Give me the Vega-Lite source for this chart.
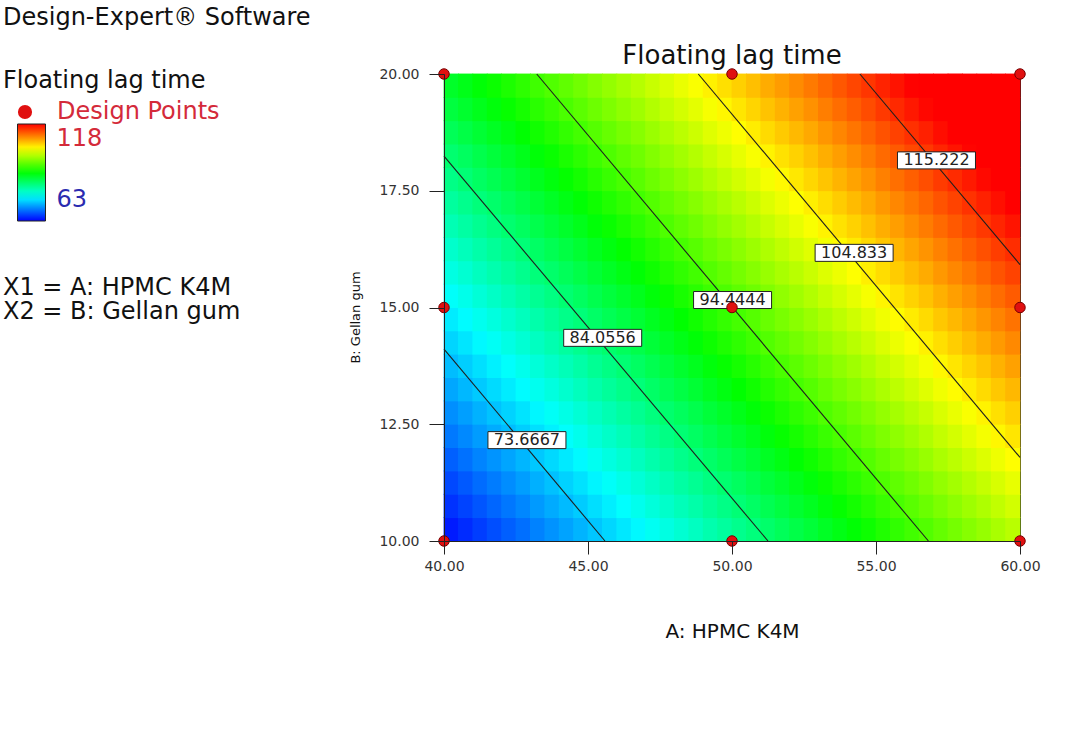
{
"$schema": "https://vega.github.io/schema/vega-lite/v6.json",
"autosize": {"type": "none"},
"padding": {"left": 444, "top": 74, "right": 69, "bottom": 210},
"width": 576,
"height": 467,
"background": "#ffffff",
"config": {"font": "DejaVu Sans", "view": {"stroke": "#222222", "strokeWidth": 1}},
"title": {"text": "Floating lag time", "font": "DejaVu Sans", "fontSize": 26, "fontWeight": "normal", "color": "#111111", "anchor": "middle", "frame": "group", "baseline": "alphabetic", "offset": 9, "dy": 93},
"datasets": {
"grid": [
{"A":40.25,"B":10.25,"v":64.4},{"A":40.75,"B":10.25,"v":65.3},{"A":41.25,"B":10.25,"v":66.3},{"A":41.75,"B":10.25,"v":67.2},{"A":42.25,"B":10.25,"v":68.1},{"A":42.75,"B":10.25,"v":69.0},{"A":43.25,"B":10.25,"v":70.0},{"A":43.75,"B":10.25,"v":70.9},{"A":44.25,"B":10.25,"v":71.8},{"A":44.75,"B":10.25,"v":72.7},{"A":45.25,"B":10.25,"v":73.7},{"A":45.75,"B":10.25,"v":74.6},{"A":46.25,"B":10.25,"v":75.5},{"A":46.75,"B":10.25,"v":76.4},{"A":47.25,"B":10.25,"v":77.4},{"A":47.75,"B":10.25,"v":78.3},{"A":48.25,"B":10.25,"v":79.2},{"A":48.75,"B":10.25,"v":80.1},{"A":49.25,"B":10.25,"v":81.1},{"A":49.75,"B":10.25,"v":82.0},{"A":50.25,"B":10.25,"v":82.9},{"A":50.75,"B":10.25,"v":83.8},{"A":51.25,"B":10.25,"v":84.8},{"A":51.75,"B":10.25,"v":85.7},{"A":52.25,"B":10.25,"v":86.6},{"A":52.75,"B":10.25,"v":87.5},{"A":53.25,"B":10.25,"v":88.5},{"A":53.75,"B":10.25,"v":89.4},{"A":54.25,"B":10.25,"v":90.3},{"A":54.75,"B":10.25,"v":91.2},{"A":55.25,"B":10.25,"v":92.2},{"A":55.75,"B":10.25,"v":93.1},{"A":56.25,"B":10.25,"v":94.0},{"A":56.75,"B":10.25,"v":94.9},{"A":57.25,"B":10.25,"v":95.9},{"A":57.75,"B":10.25,"v":96.8},{"A":58.25,"B":10.25,"v":97.7},{"A":58.75,"B":10.25,"v":98.6},{"A":59.25,"B":10.25,"v":99.6},{"A":59.75,"B":10.25,"v":100.5},
{"A":40.25,"B":10.75,"v":65.7},{"A":40.75,"B":10.75,"v":66.6},{"A":41.25,"B":10.75,"v":67.6},{"A":41.75,"B":10.75,"v":68.5},{"A":42.25,"B":10.75,"v":69.4},{"A":42.75,"B":10.75,"v":70.3},{"A":43.25,"B":10.75,"v":71.3},{"A":43.75,"B":10.75,"v":72.2},{"A":44.25,"B":10.75,"v":73.1},{"A":44.75,"B":10.75,"v":74.0},{"A":45.25,"B":10.75,"v":75.0},{"A":45.75,"B":10.75,"v":75.9},{"A":46.25,"B":10.75,"v":76.8},{"A":46.75,"B":10.75,"v":77.7},{"A":47.25,"B":10.75,"v":78.7},{"A":47.75,"B":10.75,"v":79.6},{"A":48.25,"B":10.75,"v":80.5},{"A":48.75,"B":10.75,"v":81.4},{"A":49.25,"B":10.75,"v":82.4},{"A":49.75,"B":10.75,"v":83.3},{"A":50.25,"B":10.75,"v":84.2},{"A":50.75,"B":10.75,"v":85.1},{"A":51.25,"B":10.75,"v":86.1},{"A":51.75,"B":10.75,"v":87.0},{"A":52.25,"B":10.75,"v":87.9},{"A":52.75,"B":10.75,"v":88.8},{"A":53.25,"B":10.75,"v":89.8},{"A":53.75,"B":10.75,"v":90.7},{"A":54.25,"B":10.75,"v":91.6},{"A":54.75,"B":10.75,"v":92.5},{"A":55.25,"B":10.75,"v":93.5},{"A":55.75,"B":10.75,"v":94.4},{"A":56.25,"B":10.75,"v":95.3},{"A":56.75,"B":10.75,"v":96.2},{"A":57.25,"B":10.75,"v":97.2},{"A":57.75,"B":10.75,"v":98.1},{"A":58.25,"B":10.75,"v":99.0},{"A":58.75,"B":10.75,"v":99.9},{"A":59.25,"B":10.75,"v":100.9},{"A":59.75,"B":10.75,"v":101.8},
{"A":40.25,"B":11.25,"v":66.9},{"A":40.75,"B":11.25,"v":67.8},{"A":41.25,"B":11.25,"v":68.8},{"A":41.75,"B":11.25,"v":69.7},{"A":42.25,"B":11.25,"v":70.6},{"A":42.75,"B":11.25,"v":71.5},{"A":43.25,"B":11.25,"v":72.5},{"A":43.75,"B":11.25,"v":73.4},{"A":44.25,"B":11.25,"v":74.3},{"A":44.75,"B":11.25,"v":75.2},{"A":45.25,"B":11.25,"v":76.2},{"A":45.75,"B":11.25,"v":77.1},{"A":46.25,"B":11.25,"v":78.0},{"A":46.75,"B":11.25,"v":78.9},{"A":47.25,"B":11.25,"v":79.9},{"A":47.75,"B":11.25,"v":80.8},{"A":48.25,"B":11.25,"v":81.7},{"A":48.75,"B":11.25,"v":82.6},{"A":49.25,"B":11.25,"v":83.6},{"A":49.75,"B":11.25,"v":84.5},{"A":50.25,"B":11.25,"v":85.4},{"A":50.75,"B":11.25,"v":86.3},{"A":51.25,"B":11.25,"v":87.3},{"A":51.75,"B":11.25,"v":88.2},{"A":52.25,"B":11.25,"v":89.1},{"A":52.75,"B":11.25,"v":90.0},{"A":53.25,"B":11.25,"v":91.0},{"A":53.75,"B":11.25,"v":91.9},{"A":54.25,"B":11.25,"v":92.8},{"A":54.75,"B":11.25,"v":93.7},{"A":55.25,"B":11.25,"v":94.7},{"A":55.75,"B":11.25,"v":95.6},{"A":56.25,"B":11.25,"v":96.5},{"A":56.75,"B":11.25,"v":97.4},{"A":57.25,"B":11.25,"v":98.4},{"A":57.75,"B":11.25,"v":99.3},{"A":58.25,"B":11.25,"v":100.2},{"A":58.75,"B":11.25,"v":101.1},{"A":59.25,"B":11.25,"v":102.1},{"A":59.75,"B":11.25,"v":103.0},
{"A":40.25,"B":11.75,"v":68.2},{"A":40.75,"B":11.75,"v":69.1},{"A":41.25,"B":11.75,"v":70.1},{"A":41.75,"B":11.75,"v":71.0},{"A":42.25,"B":11.75,"v":71.9},{"A":42.75,"B":11.75,"v":72.8},{"A":43.25,"B":11.75,"v":73.8},{"A":43.75,"B":11.75,"v":74.7},{"A":44.25,"B":11.75,"v":75.6},{"A":44.75,"B":11.75,"v":76.5},{"A":45.25,"B":11.75,"v":77.5},{"A":45.75,"B":11.75,"v":78.4},{"A":46.25,"B":11.75,"v":79.3},{"A":46.75,"B":11.75,"v":80.2},{"A":47.25,"B":11.75,"v":81.2},{"A":47.75,"B":11.75,"v":82.1},{"A":48.25,"B":11.75,"v":83.0},{"A":48.75,"B":11.75,"v":83.9},{"A":49.25,"B":11.75,"v":84.9},{"A":49.75,"B":11.75,"v":85.8},{"A":50.25,"B":11.75,"v":86.7},{"A":50.75,"B":11.75,"v":87.6},{"A":51.25,"B":11.75,"v":88.6},{"A":51.75,"B":11.75,"v":89.5},{"A":52.25,"B":11.75,"v":90.4},{"A":52.75,"B":11.75,"v":91.3},{"A":53.25,"B":11.75,"v":92.3},{"A":53.75,"B":11.75,"v":93.2},{"A":54.25,"B":11.75,"v":94.1},{"A":54.75,"B":11.75,"v":95.0},{"A":55.25,"B":11.75,"v":96.0},{"A":55.75,"B":11.75,"v":96.9},{"A":56.25,"B":11.75,"v":97.8},{"A":56.75,"B":11.75,"v":98.7},{"A":57.25,"B":11.75,"v":99.7},{"A":57.75,"B":11.75,"v":100.6},{"A":58.25,"B":11.75,"v":101.5},{"A":58.75,"B":11.75,"v":102.4},{"A":59.25,"B":11.75,"v":103.4},{"A":59.75,"B":11.75,"v":104.3},
{"A":40.25,"B":12.25,"v":69.5},{"A":40.75,"B":12.25,"v":70.4},{"A":41.25,"B":12.25,"v":71.4},{"A":41.75,"B":12.25,"v":72.3},{"A":42.25,"B":12.25,"v":73.2},{"A":42.75,"B":12.25,"v":74.1},{"A":43.25,"B":12.25,"v":75.1},{"A":43.75,"B":12.25,"v":76.0},{"A":44.25,"B":12.25,"v":76.9},{"A":44.75,"B":12.25,"v":77.8},{"A":45.25,"B":12.25,"v":78.8},{"A":45.75,"B":12.25,"v":79.7},{"A":46.25,"B":12.25,"v":80.6},{"A":46.75,"B":12.25,"v":81.5},{"A":47.25,"B":12.25,"v":82.5},{"A":47.75,"B":12.25,"v":83.4},{"A":48.25,"B":12.25,"v":84.3},{"A":48.75,"B":12.25,"v":85.2},{"A":49.25,"B":12.25,"v":86.2},{"A":49.75,"B":12.25,"v":87.1},{"A":50.25,"B":12.25,"v":88.0},{"A":50.75,"B":12.25,"v":88.9},{"A":51.25,"B":12.25,"v":89.9},{"A":51.75,"B":12.25,"v":90.8},{"A":52.25,"B":12.25,"v":91.7},{"A":52.75,"B":12.25,"v":92.6},{"A":53.25,"B":12.25,"v":93.6},{"A":53.75,"B":12.25,"v":94.5},{"A":54.25,"B":12.25,"v":95.4},{"A":54.75,"B":12.25,"v":96.3},{"A":55.25,"B":12.25,"v":97.3},{"A":55.75,"B":12.25,"v":98.2},{"A":56.25,"B":12.25,"v":99.1},{"A":56.75,"B":12.25,"v":100.0},{"A":57.25,"B":12.25,"v":101.0},{"A":57.75,"B":12.25,"v":101.9},{"A":58.25,"B":12.25,"v":102.8},{"A":58.75,"B":12.25,"v":103.7},{"A":59.25,"B":12.25,"v":104.7},{"A":59.75,"B":12.25,"v":105.6},
{"A":40.25,"B":12.75,"v":70.7},{"A":40.75,"B":12.75,"v":71.6},{"A":41.25,"B":12.75,"v":72.6},{"A":41.75,"B":12.75,"v":73.5},{"A":42.25,"B":12.75,"v":74.4},{"A":42.75,"B":12.75,"v":75.3},{"A":43.25,"B":12.75,"v":76.3},{"A":43.75,"B":12.75,"v":77.2},{"A":44.25,"B":12.75,"v":78.1},{"A":44.75,"B":12.75,"v":79.0},{"A":45.25,"B":12.75,"v":80.0},{"A":45.75,"B":12.75,"v":80.9},{"A":46.25,"B":12.75,"v":81.8},{"A":46.75,"B":12.75,"v":82.7},{"A":47.25,"B":12.75,"v":83.7},{"A":47.75,"B":12.75,"v":84.6},{"A":48.25,"B":12.75,"v":85.5},{"A":48.75,"B":12.75,"v":86.4},{"A":49.25,"B":12.75,"v":87.4},{"A":49.75,"B":12.75,"v":88.3},{"A":50.25,"B":12.75,"v":89.2},{"A":50.75,"B":12.75,"v":90.1},{"A":51.25,"B":12.75,"v":91.1},{"A":51.75,"B":12.75,"v":92.0},{"A":52.25,"B":12.75,"v":92.9},{"A":52.75,"B":12.75,"v":93.8},{"A":53.25,"B":12.75,"v":94.8},{"A":53.75,"B":12.75,"v":95.7},{"A":54.25,"B":12.75,"v":96.6},{"A":54.75,"B":12.75,"v":97.5},{"A":55.25,"B":12.75,"v":98.5},{"A":55.75,"B":12.75,"v":99.4},{"A":56.25,"B":12.75,"v":100.3},{"A":56.75,"B":12.75,"v":101.2},{"A":57.25,"B":12.75,"v":102.2},{"A":57.75,"B":12.75,"v":103.1},{"A":58.25,"B":12.75,"v":104.0},{"A":58.75,"B":12.75,"v":104.9},{"A":59.25,"B":12.75,"v":105.9},{"A":59.75,"B":12.75,"v":106.8},
{"A":40.25,"B":13.25,"v":72.0},{"A":40.75,"B":13.25,"v":72.9},{"A":41.25,"B":13.25,"v":73.9},{"A":41.75,"B":13.25,"v":74.8},{"A":42.25,"B":13.25,"v":75.7},{"A":42.75,"B":13.25,"v":76.6},{"A":43.25,"B":13.25,"v":77.6},{"A":43.75,"B":13.25,"v":78.5},{"A":44.25,"B":13.25,"v":79.4},{"A":44.75,"B":13.25,"v":80.3},{"A":45.25,"B":13.25,"v":81.3},{"A":45.75,"B":13.25,"v":82.2},{"A":46.25,"B":13.25,"v":83.1},{"A":46.75,"B":13.25,"v":84.0},{"A":47.25,"B":13.25,"v":85.0},{"A":47.75,"B":13.25,"v":85.9},{"A":48.25,"B":13.25,"v":86.8},{"A":48.75,"B":13.25,"v":87.7},{"A":49.25,"B":13.25,"v":88.7},{"A":49.75,"B":13.25,"v":89.6},{"A":50.25,"B":13.25,"v":90.5},{"A":50.75,"B":13.25,"v":91.4},{"A":51.25,"B":13.25,"v":92.4},{"A":51.75,"B":13.25,"v":93.3},{"A":52.25,"B":13.25,"v":94.2},{"A":52.75,"B":13.25,"v":95.1},{"A":53.25,"B":13.25,"v":96.1},{"A":53.75,"B":13.25,"v":97.0},{"A":54.25,"B":13.25,"v":97.9},{"A":54.75,"B":13.25,"v":98.8},{"A":55.25,"B":13.25,"v":99.8},{"A":55.75,"B":13.25,"v":100.7},{"A":56.25,"B":13.25,"v":101.6},{"A":56.75,"B":13.25,"v":102.5},{"A":57.25,"B":13.25,"v":103.5},{"A":57.75,"B":13.25,"v":104.4},{"A":58.25,"B":13.25,"v":105.3},{"A":58.75,"B":13.25,"v":106.2},{"A":59.25,"B":13.25,"v":107.2},{"A":59.75,"B":13.25,"v":108.1},
{"A":40.25,"B":13.75,"v":73.2},{"A":40.75,"B":13.75,"v":74.1},{"A":41.25,"B":13.75,"v":75.1},{"A":41.75,"B":13.75,"v":76.0},{"A":42.25,"B":13.75,"v":76.9},{"A":42.75,"B":13.75,"v":77.8},{"A":43.25,"B":13.75,"v":78.8},{"A":43.75,"B":13.75,"v":79.7},{"A":44.25,"B":13.75,"v":80.6},{"A":44.75,"B":13.75,"v":81.5},{"A":45.25,"B":13.75,"v":82.5},{"A":45.75,"B":13.75,"v":83.4},{"A":46.25,"B":13.75,"v":84.3},{"A":46.75,"B":13.75,"v":85.2},{"A":47.25,"B":13.75,"v":86.2},{"A":47.75,"B":13.75,"v":87.1},{"A":48.25,"B":13.75,"v":88.0},{"A":48.75,"B":13.75,"v":88.9},{"A":49.25,"B":13.75,"v":89.9},{"A":49.75,"B":13.75,"v":90.8},{"A":50.25,"B":13.75,"v":91.7},{"A":50.75,"B":13.75,"v":92.6},{"A":51.25,"B":13.75,"v":93.6},{"A":51.75,"B":13.75,"v":94.5},{"A":52.25,"B":13.75,"v":95.4},{"A":52.75,"B":13.75,"v":96.3},{"A":53.25,"B":13.75,"v":97.3},{"A":53.75,"B":13.75,"v":98.2},{"A":54.25,"B":13.75,"v":99.1},{"A":54.75,"B":13.75,"v":100.0},{"A":55.25,"B":13.75,"v":101.0},{"A":55.75,"B":13.75,"v":101.9},{"A":56.25,"B":13.75,"v":102.8},{"A":56.75,"B":13.75,"v":103.7},{"A":57.25,"B":13.75,"v":104.7},{"A":57.75,"B":13.75,"v":105.6},{"A":58.25,"B":13.75,"v":106.5},{"A":58.75,"B":13.75,"v":107.4},{"A":59.25,"B":13.75,"v":108.4},{"A":59.75,"B":13.75,"v":109.3},
{"A":40.25,"B":14.25,"v":74.5},{"A":40.75,"B":14.25,"v":75.4},{"A":41.25,"B":14.25,"v":76.4},{"A":41.75,"B":14.25,"v":77.3},{"A":42.25,"B":14.25,"v":78.2},{"A":42.75,"B":14.25,"v":79.1},{"A":43.25,"B":14.25,"v":80.1},{"A":43.75,"B":14.25,"v":81.0},{"A":44.25,"B":14.25,"v":81.9},{"A":44.75,"B":14.25,"v":82.8},{"A":45.25,"B":14.25,"v":83.8},{"A":45.75,"B":14.25,"v":84.7},{"A":46.25,"B":14.25,"v":85.6},{"A":46.75,"B":14.25,"v":86.5},{"A":47.25,"B":14.25,"v":87.5},{"A":47.75,"B":14.25,"v":88.4},{"A":48.25,"B":14.25,"v":89.3},{"A":48.75,"B":14.25,"v":90.2},{"A":49.25,"B":14.25,"v":91.2},{"A":49.75,"B":14.25,"v":92.1},{"A":50.25,"B":14.25,"v":93.0},{"A":50.75,"B":14.25,"v":93.9},{"A":51.25,"B":14.25,"v":94.9},{"A":51.75,"B":14.25,"v":95.8},{"A":52.25,"B":14.25,"v":96.7},{"A":52.75,"B":14.25,"v":97.6},{"A":53.25,"B":14.25,"v":98.6},{"A":53.75,"B":14.25,"v":99.5},{"A":54.25,"B":14.25,"v":100.4},{"A":54.75,"B":14.25,"v":101.3},{"A":55.25,"B":14.25,"v":102.3},{"A":55.75,"B":14.25,"v":103.2},{"A":56.25,"B":14.25,"v":104.1},{"A":56.75,"B":14.25,"v":105.0},{"A":57.25,"B":14.25,"v":106.0},{"A":57.75,"B":14.25,"v":106.9},{"A":58.25,"B":14.25,"v":107.8},{"A":58.75,"B":14.25,"v":108.7},{"A":59.25,"B":14.25,"v":109.7},{"A":59.75,"B":14.25,"v":110.6},
{"A":40.25,"B":14.75,"v":75.7},{"A":40.75,"B":14.75,"v":76.6},{"A":41.25,"B":14.75,"v":77.6},{"A":41.75,"B":14.75,"v":78.5},{"A":42.25,"B":14.75,"v":79.4},{"A":42.75,"B":14.75,"v":80.3},{"A":43.25,"B":14.75,"v":81.3},{"A":43.75,"B":14.75,"v":82.2},{"A":44.25,"B":14.75,"v":83.1},{"A":44.75,"B":14.75,"v":84.0},{"A":45.25,"B":14.75,"v":85.0},{"A":45.75,"B":14.75,"v":85.9},{"A":46.25,"B":14.75,"v":86.8},{"A":46.75,"B":14.75,"v":87.7},{"A":47.25,"B":14.75,"v":88.7},{"A":47.75,"B":14.75,"v":89.6},{"A":48.25,"B":14.75,"v":90.5},{"A":48.75,"B":14.75,"v":91.4},{"A":49.25,"B":14.75,"v":92.4},{"A":49.75,"B":14.75,"v":93.3},{"A":50.25,"B":14.75,"v":94.2},{"A":50.75,"B":14.75,"v":95.1},{"A":51.25,"B":14.75,"v":96.1},{"A":51.75,"B":14.75,"v":97.0},{"A":52.25,"B":14.75,"v":97.9},{"A":52.75,"B":14.75,"v":98.8},{"A":53.25,"B":14.75,"v":99.8},{"A":53.75,"B":14.75,"v":100.7},{"A":54.25,"B":14.75,"v":101.6},{"A":54.75,"B":14.75,"v":102.5},{"A":55.25,"B":14.75,"v":103.5},{"A":55.75,"B":14.75,"v":104.4},{"A":56.25,"B":14.75,"v":105.3},{"A":56.75,"B":14.75,"v":106.2},{"A":57.25,"B":14.75,"v":107.2},{"A":57.75,"B":14.75,"v":108.1},{"A":58.25,"B":14.75,"v":109.0},{"A":58.75,"B":14.75,"v":109.9},{"A":59.25,"B":14.75,"v":110.9},{"A":59.75,"B":14.75,"v":111.8},
{"A":40.25,"B":15.25,"v":77.0},{"A":40.75,"B":15.25,"v":77.9},{"A":41.25,"B":15.25,"v":78.9},{"A":41.75,"B":15.25,"v":79.8},{"A":42.25,"B":15.25,"v":80.7},{"A":42.75,"B":15.25,"v":81.6},{"A":43.25,"B":15.25,"v":82.6},{"A":43.75,"B":15.25,"v":83.5},{"A":44.25,"B":15.25,"v":84.4},{"A":44.75,"B":15.25,"v":85.3},{"A":45.25,"B":15.25,"v":86.3},{"A":45.75,"B":15.25,"v":87.2},{"A":46.25,"B":15.25,"v":88.1},{"A":46.75,"B":15.25,"v":89.0},{"A":47.25,"B":15.25,"v":90.0},{"A":47.75,"B":15.25,"v":90.9},{"A":48.25,"B":15.25,"v":91.8},{"A":48.75,"B":15.25,"v":92.7},{"A":49.25,"B":15.25,"v":93.7},{"A":49.75,"B":15.25,"v":94.6},{"A":50.25,"B":15.25,"v":95.5},{"A":50.75,"B":15.25,"v":96.4},{"A":51.25,"B":15.25,"v":97.4},{"A":51.75,"B":15.25,"v":98.3},{"A":52.25,"B":15.25,"v":99.2},{"A":52.75,"B":15.25,"v":100.1},{"A":53.25,"B":15.25,"v":101.1},{"A":53.75,"B":15.25,"v":102.0},{"A":54.25,"B":15.25,"v":102.9},{"A":54.75,"B":15.25,"v":103.8},{"A":55.25,"B":15.25,"v":104.8},{"A":55.75,"B":15.25,"v":105.7},{"A":56.25,"B":15.25,"v":106.6},{"A":56.75,"B":15.25,"v":107.5},{"A":57.25,"B":15.25,"v":108.5},{"A":57.75,"B":15.25,"v":109.4},{"A":58.25,"B":15.25,"v":110.3},{"A":58.75,"B":15.25,"v":111.2},{"A":59.25,"B":15.25,"v":112.2},{"A":59.75,"B":15.25,"v":113.1},
{"A":40.25,"B":15.75,"v":78.3},{"A":40.75,"B":15.75,"v":79.2},{"A":41.25,"B":15.75,"v":80.2},{"A":41.75,"B":15.75,"v":81.1},{"A":42.25,"B":15.75,"v":82.0},{"A":42.75,"B":15.75,"v":82.9},{"A":43.25,"B":15.75,"v":83.9},{"A":43.75,"B":15.75,"v":84.8},{"A":44.25,"B":15.75,"v":85.7},{"A":44.75,"B":15.75,"v":86.6},{"A":45.25,"B":15.75,"v":87.6},{"A":45.75,"B":15.75,"v":88.5},{"A":46.25,"B":15.75,"v":89.4},{"A":46.75,"B":15.75,"v":90.3},{"A":47.25,"B":15.75,"v":91.3},{"A":47.75,"B":15.75,"v":92.2},{"A":48.25,"B":15.75,"v":93.1},{"A":48.75,"B":15.75,"v":94.0},{"A":49.25,"B":15.75,"v":95.0},{"A":49.75,"B":15.75,"v":95.9},{"A":50.25,"B":15.75,"v":96.8},{"A":50.75,"B":15.75,"v":97.7},{"A":51.25,"B":15.75,"v":98.7},{"A":51.75,"B":15.75,"v":99.6},{"A":52.25,"B":15.75,"v":100.5},{"A":52.75,"B":15.75,"v":101.4},{"A":53.25,"B":15.75,"v":102.4},{"A":53.75,"B":15.75,"v":103.3},{"A":54.25,"B":15.75,"v":104.2},{"A":54.75,"B":15.75,"v":105.1},{"A":55.25,"B":15.75,"v":106.1},{"A":55.75,"B":15.75,"v":107.0},{"A":56.25,"B":15.75,"v":107.9},{"A":56.75,"B":15.75,"v":108.8},{"A":57.25,"B":15.75,"v":109.8},{"A":57.75,"B":15.75,"v":110.7},{"A":58.25,"B":15.75,"v":111.6},{"A":58.75,"B":15.75,"v":112.5},{"A":59.25,"B":15.75,"v":113.5},{"A":59.75,"B":15.75,"v":114.4},
{"A":40.25,"B":16.25,"v":79.5},{"A":40.75,"B":16.25,"v":80.4},{"A":41.25,"B":16.25,"v":81.4},{"A":41.75,"B":16.25,"v":82.3},{"A":42.25,"B":16.25,"v":83.2},{"A":42.75,"B":16.25,"v":84.1},{"A":43.25,"B":16.25,"v":85.1},{"A":43.75,"B":16.25,"v":86.0},{"A":44.25,"B":16.25,"v":86.9},{"A":44.75,"B":16.25,"v":87.8},{"A":45.25,"B":16.25,"v":88.8},{"A":45.75,"B":16.25,"v":89.7},{"A":46.25,"B":16.25,"v":90.6},{"A":46.75,"B":16.25,"v":91.5},{"A":47.25,"B":16.25,"v":92.5},{"A":47.75,"B":16.25,"v":93.4},{"A":48.25,"B":16.25,"v":94.3},{"A":48.75,"B":16.25,"v":95.2},{"A":49.25,"B":16.25,"v":96.2},{"A":49.75,"B":16.25,"v":97.1},{"A":50.25,"B":16.25,"v":98.0},{"A":50.75,"B":16.25,"v":98.9},{"A":51.25,"B":16.25,"v":99.9},{"A":51.75,"B":16.25,"v":100.8},{"A":52.25,"B":16.25,"v":101.7},{"A":52.75,"B":16.25,"v":102.6},{"A":53.25,"B":16.25,"v":103.6},{"A":53.75,"B":16.25,"v":104.5},{"A":54.25,"B":16.25,"v":105.4},{"A":54.75,"B":16.25,"v":106.3},{"A":55.25,"B":16.25,"v":107.3},{"A":55.75,"B":16.25,"v":108.2},{"A":56.25,"B":16.25,"v":109.1},{"A":56.75,"B":16.25,"v":110.0},{"A":57.25,"B":16.25,"v":111.0},{"A":57.75,"B":16.25,"v":111.9},{"A":58.25,"B":16.25,"v":112.8},{"A":58.75,"B":16.25,"v":113.7},{"A":59.25,"B":16.25,"v":114.7},{"A":59.75,"B":16.25,"v":115.6},
{"A":40.25,"B":16.75,"v":80.8},{"A":40.75,"B":16.75,"v":81.7},{"A":41.25,"B":16.75,"v":82.7},{"A":41.75,"B":16.75,"v":83.6},{"A":42.25,"B":16.75,"v":84.5},{"A":42.75,"B":16.75,"v":85.4},{"A":43.25,"B":16.75,"v":86.4},{"A":43.75,"B":16.75,"v":87.3},{"A":44.25,"B":16.75,"v":88.2},{"A":44.75,"B":16.75,"v":89.1},{"A":45.25,"B":16.75,"v":90.1},{"A":45.75,"B":16.75,"v":91.0},{"A":46.25,"B":16.75,"v":91.9},{"A":46.75,"B":16.75,"v":92.8},{"A":47.25,"B":16.75,"v":93.8},{"A":47.75,"B":16.75,"v":94.7},{"A":48.25,"B":16.75,"v":95.6},{"A":48.75,"B":16.75,"v":96.5},{"A":49.25,"B":16.75,"v":97.5},{"A":49.75,"B":16.75,"v":98.4},{"A":50.25,"B":16.75,"v":99.3},{"A":50.75,"B":16.75,"v":100.2},{"A":51.25,"B":16.75,"v":101.2},{"A":51.75,"B":16.75,"v":102.1},{"A":52.25,"B":16.75,"v":103.0},{"A":52.75,"B":16.75,"v":103.9},{"A":53.25,"B":16.75,"v":104.9},{"A":53.75,"B":16.75,"v":105.8},{"A":54.25,"B":16.75,"v":106.7},{"A":54.75,"B":16.75,"v":107.6},{"A":55.25,"B":16.75,"v":108.6},{"A":55.75,"B":16.75,"v":109.5},{"A":56.25,"B":16.75,"v":110.4},{"A":56.75,"B":16.75,"v":111.3},{"A":57.25,"B":16.75,"v":112.3},{"A":57.75,"B":16.75,"v":113.2},{"A":58.25,"B":16.75,"v":114.1},{"A":58.75,"B":16.75,"v":115.0},{"A":59.25,"B":16.75,"v":116.0},{"A":59.75,"B":16.75,"v":116.9},
{"A":40.25,"B":17.25,"v":82.0},{"A":40.75,"B":17.25,"v":82.9},{"A":41.25,"B":17.25,"v":83.9},{"A":41.75,"B":17.25,"v":84.8},{"A":42.25,"B":17.25,"v":85.7},{"A":42.75,"B":17.25,"v":86.6},{"A":43.25,"B":17.25,"v":87.6},{"A":43.75,"B":17.25,"v":88.5},{"A":44.25,"B":17.25,"v":89.4},{"A":44.75,"B":17.25,"v":90.3},{"A":45.25,"B":17.25,"v":91.3},{"A":45.75,"B":17.25,"v":92.2},{"A":46.25,"B":17.25,"v":93.1},{"A":46.75,"B":17.25,"v":94.0},{"A":47.25,"B":17.25,"v":95.0},{"A":47.75,"B":17.25,"v":95.9},{"A":48.25,"B":17.25,"v":96.8},{"A":48.75,"B":17.25,"v":97.7},{"A":49.25,"B":17.25,"v":98.7},{"A":49.75,"B":17.25,"v":99.6},{"A":50.25,"B":17.25,"v":100.5},{"A":50.75,"B":17.25,"v":101.4},{"A":51.25,"B":17.25,"v":102.4},{"A":51.75,"B":17.25,"v":103.3},{"A":52.25,"B":17.25,"v":104.2},{"A":52.75,"B":17.25,"v":105.1},{"A":53.25,"B":17.25,"v":106.1},{"A":53.75,"B":17.25,"v":107.0},{"A":54.25,"B":17.25,"v":107.9},{"A":54.75,"B":17.25,"v":108.8},{"A":55.25,"B":17.25,"v":109.8},{"A":55.75,"B":17.25,"v":110.7},{"A":56.25,"B":17.25,"v":111.6},{"A":56.75,"B":17.25,"v":112.5},{"A":57.25,"B":17.25,"v":113.5},{"A":57.75,"B":17.25,"v":114.4},{"A":58.25,"B":17.25,"v":115.3},{"A":58.75,"B":17.25,"v":116.2},{"A":59.25,"B":17.25,"v":117.2},{"A":59.75,"B":17.25,"v":118.1},
{"A":40.25,"B":17.75,"v":83.3},{"A":40.75,"B":17.75,"v":84.2},{"A":41.25,"B":17.75,"v":85.2},{"A":41.75,"B":17.75,"v":86.1},{"A":42.25,"B":17.75,"v":87.0},{"A":42.75,"B":17.75,"v":87.9},{"A":43.25,"B":17.75,"v":88.9},{"A":43.75,"B":17.75,"v":89.8},{"A":44.25,"B":17.75,"v":90.7},{"A":44.75,"B":17.75,"v":91.6},{"A":45.25,"B":17.75,"v":92.6},{"A":45.75,"B":17.75,"v":93.5},{"A":46.25,"B":17.75,"v":94.4},{"A":46.75,"B":17.75,"v":95.3},{"A":47.25,"B":17.75,"v":96.3},{"A":47.75,"B":17.75,"v":97.2},{"A":48.25,"B":17.75,"v":98.1},{"A":48.75,"B":17.75,"v":99.0},{"A":49.25,"B":17.75,"v":100.0},{"A":49.75,"B":17.75,"v":100.9},{"A":50.25,"B":17.75,"v":101.8},{"A":50.75,"B":17.75,"v":102.7},{"A":51.25,"B":17.75,"v":103.7},{"A":51.75,"B":17.75,"v":104.6},{"A":52.25,"B":17.75,"v":105.5},{"A":52.75,"B":17.75,"v":106.4},{"A":53.25,"B":17.75,"v":107.4},{"A":53.75,"B":17.75,"v":108.3},{"A":54.25,"B":17.75,"v":109.2},{"A":54.75,"B":17.75,"v":110.1},{"A":55.25,"B":17.75,"v":111.1},{"A":55.75,"B":17.75,"v":112.0},{"A":56.25,"B":17.75,"v":112.9},{"A":56.75,"B":17.75,"v":113.8},{"A":57.25,"B":17.75,"v":114.8},{"A":57.75,"B":17.75,"v":115.7},{"A":58.25,"B":17.75,"v":116.6},{"A":58.75,"B":17.75,"v":117.5},{"A":59.25,"B":17.75,"v":118.5},{"A":59.75,"B":17.75,"v":119.4},
{"A":40.25,"B":18.25,"v":84.5},{"A":40.75,"B":18.25,"v":85.4},{"A":41.25,"B":18.25,"v":86.4},{"A":41.75,"B":18.25,"v":87.3},{"A":42.25,"B":18.25,"v":88.2},{"A":42.75,"B":18.25,"v":89.1},{"A":43.25,"B":18.25,"v":90.1},{"A":43.75,"B":18.25,"v":91.0},{"A":44.25,"B":18.25,"v":91.9},{"A":44.75,"B":18.25,"v":92.8},{"A":45.25,"B":18.25,"v":93.8},{"A":45.75,"B":18.25,"v":94.7},{"A":46.25,"B":18.25,"v":95.6},{"A":46.75,"B":18.25,"v":96.5},{"A":47.25,"B":18.25,"v":97.5},{"A":47.75,"B":18.25,"v":98.4},{"A":48.25,"B":18.25,"v":99.3},{"A":48.75,"B":18.25,"v":100.2},{"A":49.25,"B":18.25,"v":101.2},{"A":49.75,"B":18.25,"v":102.1},{"A":50.25,"B":18.25,"v":103.0},{"A":50.75,"B":18.25,"v":103.9},{"A":51.25,"B":18.25,"v":104.9},{"A":51.75,"B":18.25,"v":105.8},{"A":52.25,"B":18.25,"v":106.7},{"A":52.75,"B":18.25,"v":107.6},{"A":53.25,"B":18.25,"v":108.6},{"A":53.75,"B":18.25,"v":109.5},{"A":54.25,"B":18.25,"v":110.4},{"A":54.75,"B":18.25,"v":111.3},{"A":55.25,"B":18.25,"v":112.3},{"A":55.75,"B":18.25,"v":113.2},{"A":56.25,"B":18.25,"v":114.1},{"A":56.75,"B":18.25,"v":115.0},{"A":57.25,"B":18.25,"v":116.0},{"A":57.75,"B":18.25,"v":116.9},{"A":58.25,"B":18.25,"v":117.8},{"A":58.75,"B":18.25,"v":118.7},{"A":59.25,"B":18.25,"v":119.7},{"A":59.75,"B":18.25,"v":120.6},
{"A":40.25,"B":18.75,"v":85.8},{"A":40.75,"B":18.75,"v":86.7},{"A":41.25,"B":18.75,"v":87.7},{"A":41.75,"B":18.75,"v":88.6},{"A":42.25,"B":18.75,"v":89.5},{"A":42.75,"B":18.75,"v":90.4},{"A":43.25,"B":18.75,"v":91.4},{"A":43.75,"B":18.75,"v":92.3},{"A":44.25,"B":18.75,"v":93.2},{"A":44.75,"B":18.75,"v":94.1},{"A":45.25,"B":18.75,"v":95.1},{"A":45.75,"B":18.75,"v":96.0},{"A":46.25,"B":18.75,"v":96.9},{"A":46.75,"B":18.75,"v":97.8},{"A":47.25,"B":18.75,"v":98.8},{"A":47.75,"B":18.75,"v":99.7},{"A":48.25,"B":18.75,"v":100.6},{"A":48.75,"B":18.75,"v":101.5},{"A":49.25,"B":18.75,"v":102.5},{"A":49.75,"B":18.75,"v":103.4},{"A":50.25,"B":18.75,"v":104.3},{"A":50.75,"B":18.75,"v":105.2},{"A":51.25,"B":18.75,"v":106.2},{"A":51.75,"B":18.75,"v":107.1},{"A":52.25,"B":18.75,"v":108.0},{"A":52.75,"B":18.75,"v":108.9},{"A":53.25,"B":18.75,"v":109.9},{"A":53.75,"B":18.75,"v":110.8},{"A":54.25,"B":18.75,"v":111.7},{"A":54.75,"B":18.75,"v":112.6},{"A":55.25,"B":18.75,"v":113.6},{"A":55.75,"B":18.75,"v":114.5},{"A":56.25,"B":18.75,"v":115.4},{"A":56.75,"B":18.75,"v":116.3},{"A":57.25,"B":18.75,"v":117.3},{"A":57.75,"B":18.75,"v":118.2},{"A":58.25,"B":18.75,"v":119.1},{"A":58.75,"B":18.75,"v":120.0},{"A":59.25,"B":18.75,"v":121.0},{"A":59.75,"B":18.75,"v":121.9},
{"A":40.25,"B":19.25,"v":87.1},{"A":40.75,"B":19.25,"v":88.0},{"A":41.25,"B":19.25,"v":89.0},{"A":41.75,"B":19.25,"v":89.9},{"A":42.25,"B":19.25,"v":90.8},{"A":42.75,"B":19.25,"v":91.7},{"A":43.25,"B":19.25,"v":92.7},{"A":43.75,"B":19.25,"v":93.6},{"A":44.25,"B":19.25,"v":94.5},{"A":44.75,"B":19.25,"v":95.4},{"A":45.25,"B":19.25,"v":96.4},{"A":45.75,"B":19.25,"v":97.3},{"A":46.25,"B":19.25,"v":98.2},{"A":46.75,"B":19.25,"v":99.1},{"A":47.25,"B":19.25,"v":100.1},{"A":47.75,"B":19.25,"v":101.0},{"A":48.25,"B":19.25,"v":101.9},{"A":48.75,"B":19.25,"v":102.8},{"A":49.25,"B":19.25,"v":103.8},{"A":49.75,"B":19.25,"v":104.7},{"A":50.25,"B":19.25,"v":105.6},{"A":50.75,"B":19.25,"v":106.5},{"A":51.25,"B":19.25,"v":107.5},{"A":51.75,"B":19.25,"v":108.4},{"A":52.25,"B":19.25,"v":109.3},{"A":52.75,"B":19.25,"v":110.2},{"A":53.25,"B":19.25,"v":111.2},{"A":53.75,"B":19.25,"v":112.1},{"A":54.25,"B":19.25,"v":113.0},{"A":54.75,"B":19.25,"v":113.9},{"A":55.25,"B":19.25,"v":114.9},{"A":55.75,"B":19.25,"v":115.8},{"A":56.25,"B":19.25,"v":116.7},{"A":56.75,"B":19.25,"v":117.6},{"A":57.25,"B":19.25,"v":118.6},{"A":57.75,"B":19.25,"v":119.5},{"A":58.25,"B":19.25,"v":120.4},{"A":58.75,"B":19.25,"v":121.3},{"A":59.25,"B":19.25,"v":122.3},{"A":59.75,"B":19.25,"v":123.2},
{"A":40.25,"B":19.75,"v":88.3},{"A":40.75,"B":19.75,"v":89.2},{"A":41.25,"B":19.75,"v":90.2},{"A":41.75,"B":19.75,"v":91.1},{"A":42.25,"B":19.75,"v":92.0},{"A":42.75,"B":19.75,"v":92.9},{"A":43.25,"B":19.75,"v":93.9},{"A":43.75,"B":19.75,"v":94.8},{"A":44.25,"B":19.75,"v":95.7},{"A":44.75,"B":19.75,"v":96.6},{"A":45.25,"B":19.75,"v":97.6},{"A":45.75,"B":19.75,"v":98.5},{"A":46.25,"B":19.75,"v":99.4},{"A":46.75,"B":19.75,"v":100.3},{"A":47.25,"B":19.75,"v":101.3},{"A":47.75,"B":19.75,"v":102.2},{"A":48.25,"B":19.75,"v":103.1},{"A":48.75,"B":19.75,"v":104.0},{"A":49.25,"B":19.75,"v":105.0},{"A":49.75,"B":19.75,"v":105.9},{"A":50.25,"B":19.75,"v":106.8},{"A":50.75,"B":19.75,"v":107.7},{"A":51.25,"B":19.75,"v":108.7},{"A":51.75,"B":19.75,"v":109.6},{"A":52.25,"B":19.75,"v":110.5},{"A":52.75,"B":19.75,"v":111.4},{"A":53.25,"B":19.75,"v":112.4},{"A":53.75,"B":19.75,"v":113.3},{"A":54.25,"B":19.75,"v":114.2},{"A":54.75,"B":19.75,"v":115.1},{"A":55.25,"B":19.75,"v":116.1},{"A":55.75,"B":19.75,"v":117.0},{"A":56.25,"B":19.75,"v":117.9},{"A":56.75,"B":19.75,"v":118.8},{"A":57.25,"B":19.75,"v":119.8},{"A":57.75,"B":19.75,"v":120.7},{"A":58.25,"B":19.75,"v":121.6},{"A":58.75,"B":19.75,"v":122.5},{"A":59.25,"B":19.75,"v":123.5},{"A":59.75,"B":19.75,"v":124.4}
],
"lines": [
{"level":"73.6667","A":40,"B":14.11},{"level":"73.6667","A":45.59,"B":10},
{"level":"84.0556","A":40,"B":18.24},{"level":"84.0556","A":51.25,"B":10},
{"level":"94.4444","A":43.22,"B":20},{"level":"94.4444","A":56.82,"B":10},
{"level":"104.833","A":48.83,"B":20},{"level":"104.833","A":60,"B":11.79},
{"level":"115.222","A":54.44,"B":20},{"level":"115.222","A":60,"B":15.92}
],
"labs": [
{"lab":"115.222","A":57.1,"B":18.15},
{"lab":"104.833","A":54.24,"B":16.17},
{"lab":"94.4444","A":50.02,"B":15.16},
{"lab":"84.0556","A":45.51,"B":14.35},
{"lab":"73.6667","A":42.88,"B":12.16}
],
"pts": [
{"kind":"Design Points","A":40,"B":10},{"kind":"Design Points","A":50,"B":10},{"kind":"Design Points","A":60,"B":10},
{"kind":"Design Points","A":40,"B":15},{"kind":"Design Points","A":50,"B":15},{"kind":"Design Points","A":60,"B":15},
{"kind":"Design Points","A":40,"B":20},{"kind":"Design Points","A":50,"B":20},{"kind":"Design Points","A":60,"B":20}
],
"notes": [
{"t":"X1 = A: HPMC K4M","A":50,"B":15},
{"t":"X2 = B: Gellan gum","A":50,"B":15}
]
},
"layer": [
{
"data": {"name": "grid"},
"mark": {"type": "rect", "width": 15.2, "height": 24.2},
"encoding": {
"x": {"field": "A", "type": "quantitative",
 "scale": {"domain": [40, 60], "nice": false, "zero": false},
 "axis": {"values": [40, 45, 50, 55, 60], "format": ".2f", "title": "A: HPMC K4M", "grid": false, "labelFont": "DejaVu Sans", "labelFontSize": 14, "labelColor": "#333333", "labelPadding": 5, "labelFlush": false, "labelOverlap": false, "tickSize": 13, "tickColor": "#222222", "domainColor": "#222222", "titleFont": "DejaVu Sans", "titleFontSize": 20, "titleFontWeight": "normal", "titleColor": "#111111", "titlePadding": 48, "zindex": 1}},
"y": {"field": "B", "type": "quantitative",
 "scale": {"domain": [10, 20], "nice": false, "zero": false},
 "axis": {"values": [10, 12.5, 15, 17.5, 20], "format": ".2f", "title": "B: Gellan gum", "grid": false, "labelFont": "DejaVu Sans", "labelFontSize": 14, "labelColor": "#333333", "labelPadding": 10, "labelFlush": false, "labelOverlap": false, "tickSize": 15, "tickColor": "#222222", "domainColor": "#222222", "titleFont": "DejaVu Sans", "titleFontSize": 13, "titleFontWeight": "normal", "titleColor": "#111111", "titleX": -82, "titleY": 243, "titleAngle": 270, "titleBaseline": "bottom", "titleAlign": "center", "zindex": 1}},
"color": {"field": "v", "type": "quantitative",
 "scale": {"domain": [63, 76.75, 90.5, 104.25, 118], "range": ["#0000ff", "#00ffff", "#00ff00", "#ffff00", "#ff0000"], "interpolate": "rgb", "clamp": true},
 "legend": {"type": "gradient", "orient": "none", "legendX": -426.5, "legendY": 50, "direction": "vertical", "title": null, "gradientLength": 97, "gradientThickness": 28, "gradientStrokeColor": "#222222", "gradientStrokeWidth": 1, "values": [74.9, 109.5], "labelExpr": "datum.value > 90 ? '118' : '63'", "labelFont": "DejaVu Sans", "labelFontSize": 24, "labelOffset": 11, "labelOverlap": false,
  "encode": {"labels": {"update": {"fill": {"signal": "datum.value > 90 ? '#d42a3a' : '#2b2bb0'"}}}}}}
}
},
{
"data": {"name": "lines"},
"mark": {"type": "line", "color": "#1e1e1e", "strokeWidth": 1.1},
"encoding": {
"x": {"field": "A", "type": "quantitative"},
"y": {"field": "B", "type": "quantitative"},
"detail": {"field": "level", "type": "nominal"}
}
},
{
"data": {"name": "labs"},
"mark": {"type": "point", "shape": "M-1,-0.218L1,-0.218L1,0.218L-1,0.218Z", "size": 6084, "filled": true, "fill": "#ffffff", "stroke": "#222222", "strokeWidth": 1, "opacity": 1},
"encoding": {
"x": {"field": "A", "type": "quantitative"},
"y": {"field": "B", "type": "quantitative"}
}
},
{
"data": {"name": "labs"},
"mark": {"type": "text", "font": "DejaVu Sans", "fontSize": 16, "color": "#222222", "align": "center", "baseline": "middle"},
"encoding": {
"x": {"field": "A", "type": "quantitative"},
"y": {"field": "B", "type": "quantitative"},
"text": {"field": "lab", "type": "nominal"}
}
},
{
"data": {"name": "pts"},
"mark": {"type": "point", "filled": true, "size": 110, "fill": "#e01010", "stroke": "#7a0000", "strokeWidth": 1, "opacity": 1},
"encoding": {
"x": {"field": "A", "type": "quantitative"},
"y": {"field": "B", "type": "quantitative"},
"shape": {"field": "kind", "type": "nominal", "scale": {"range": ["circle"]},
 "legend": {"orient": "none", "legendX": -441, "legendY": -68, "title": ["Design-Expert® Software", "Floating lag time"], "titleFont": "DejaVu Sans", "titleFontSize": 24, "titleFontWeight": "normal", "titleColor": "#111111", "titleLineHeight": 63, "titlePadding": 7, "titleLimit": 500, "labelFont": "DejaVu Sans", "labelFontSize": 24, "labelColor": "#d42a3a", "labelLimit": 400, "symbolSize": 200, "symbolOffset": 10, "labelOffset": 20, "symbolFillColor": "#e01010", "symbolStrokeColor": "#7a0000", "symbolStrokeWidth": 1, "padding": 0}}
}
},
{
"data": {"name": "notes"},
"mark": {"type": "line", "opacity": 0},
"encoding": {
"x": {"field": "A", "type": "quantitative"},
"y": {"field": "B", "type": "quantitative"},
"strokeDash": {"field": "t", "type": "nominal",
 "legend": {"orient": "none", "legendX": -465, "legendY": 202, "title": null, "labelFont": "DejaVu Sans", "labelFontSize": 24, "labelColor": "#111111", "labelLimit": 400, "labelOffset": 0, "symbolSize": 0, "symbolStrokeWidth": 0, "symbolOpacity": 0, "rowPadding": 0, "padding": 0}}
}
}
]
}
